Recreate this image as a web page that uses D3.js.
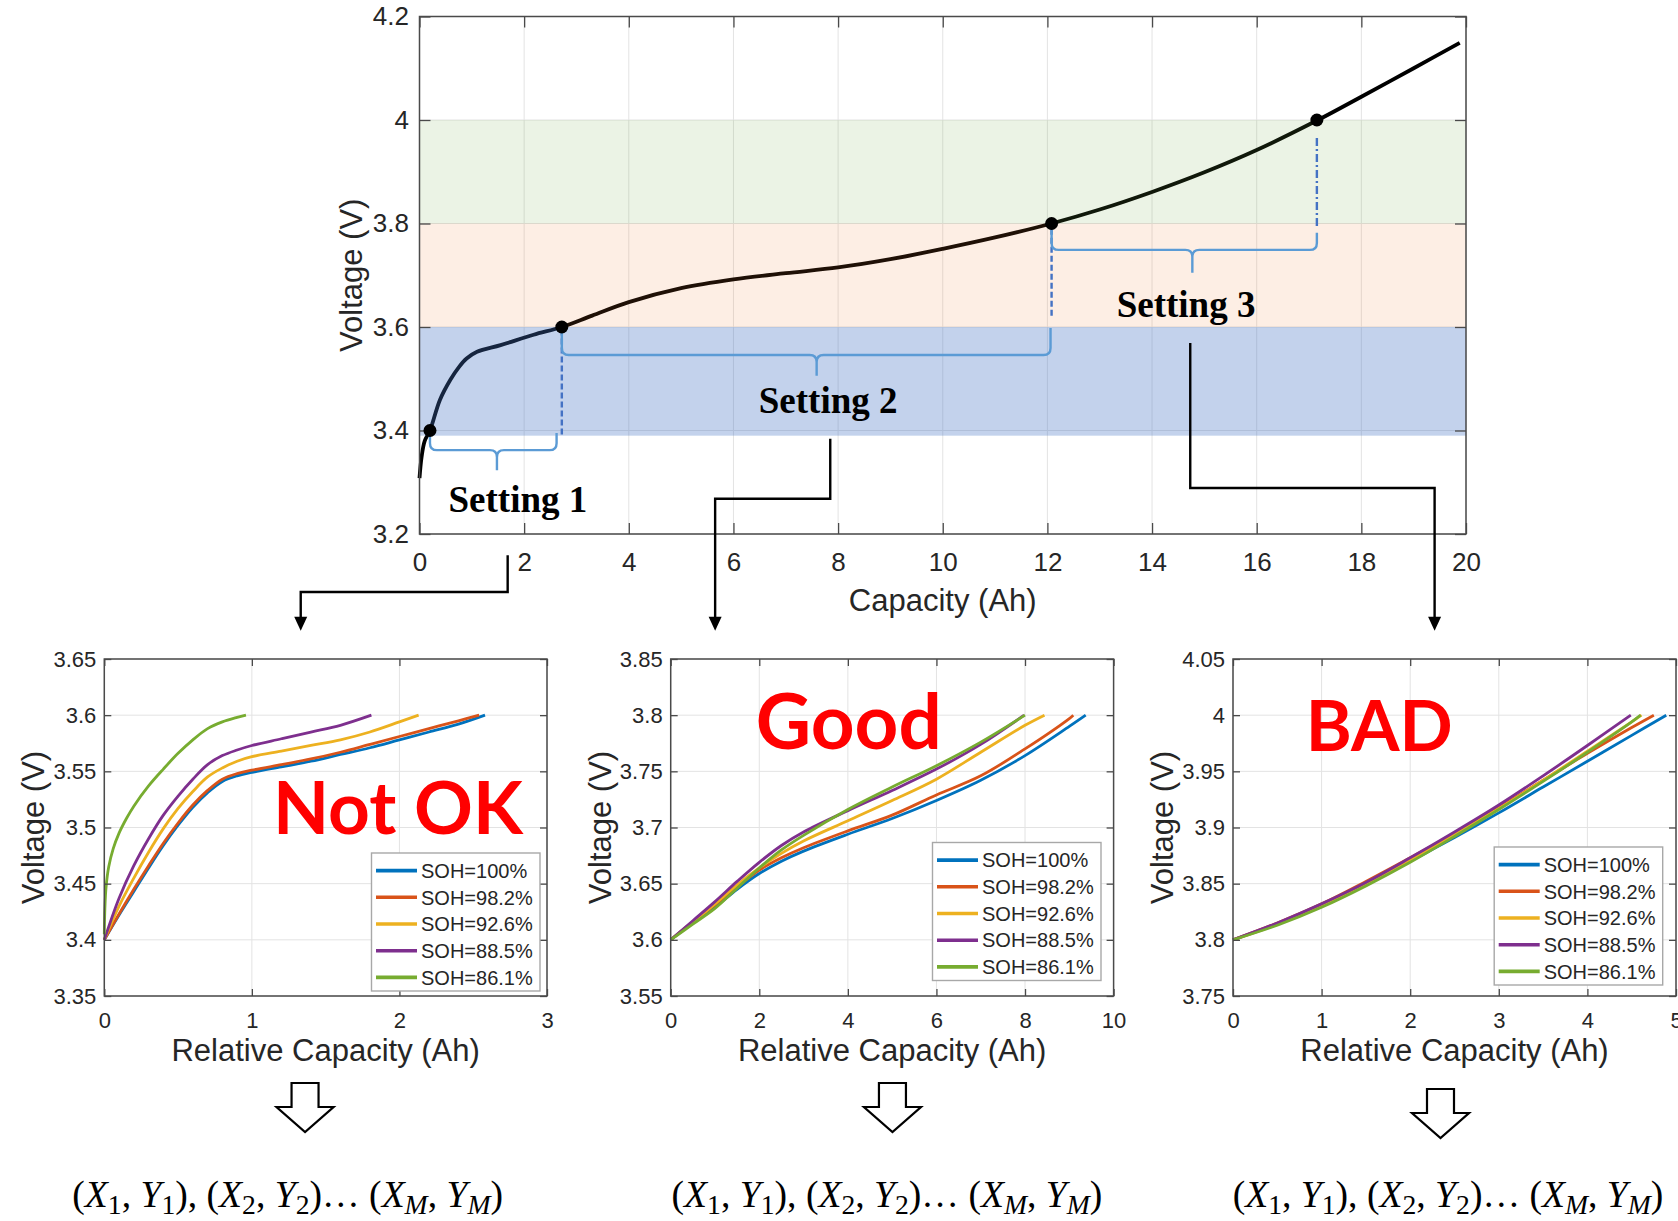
<!DOCTYPE html>
<html>
<head>
<meta charset="utf-8">
<script src="https://cdn.jsdelivr.net/npm/d3@7"></script>
<style>
  html, body { margin: 0; padding: 0; background: #ffffff; overflow: hidden; }
  svg { display: block; }
</style>
</head>
<body>
<svg id="fig" width="1678" height="1221"></svg>
<script>
// ---------------- main charge curve (full cell) ----------------
const mainCapacity = [0, 0.04, 0.1, 0.2, 0.39, 0.59, 0.75, 0.9, 1.1, 1.55, 2.18, 2.72, 3.3, 4, 5, 6, 7, 8, 9, 10, 11, 12.08, 13, 14, 15, 16, 17.15, 18, 19, 19.88];
const mainVoltage  = [3.308, 3.349, 3.38, 3.4, 3.459, 3.498, 3.522, 3.539, 3.552, 3.565, 3.585, 3.6, 3.622, 3.648, 3.675, 3.692, 3.704, 3.715, 3.731, 3.751, 3.773, 3.8, 3.827, 3.861, 3.899, 3.942, 3.999, 4.045, 4.100, 4.149];
const mainXTicks = [0, 2, 4, 6, 8, 10, 12, 14, 16, 18, 20];
const mainYTicks = [3.2, 3.4, 3.6, 3.8, 4.0, 4.2];
const mainYTickLabels = ["3.2", "3.4", "3.6", "3.8", "4", "4.2"];

// voltage windows shaded on the main chart
const bandLow     = [3.39, 3.6, 3.8];
const bandHigh    = [3.6, 3.8, 4.0];
const bandColor   = ["#4472C4", "#ED7D31", "#70AD47"];
const bandOpacity = [0.32, 0.13, 0.14];

// window boundary points on the curve
const keyCapacity = [0.2, 2.72, 12.08, 17.15];
const keyVoltage  = [3.4, 3.6, 3.8, 4.0];

// settings: brace spans, label positions, guide lines
const settingNames    = ["Setting 1", "Setting 2", "Setting 3"];
const braceStart      = [0.2, 2.72, 12.08];
const braceEnd        = [2.62, 12.06, 17.15];
const braceTip        = [1.48, 7.59, 14.77];
const braceTopLeft    = [3.398, 3.597, 3.795];
const braceTopRight   = [3.395, 3.598, 3.782];
const braceLevel      = [3.362, 3.546, 3.749];
const braceTipVoltage = [3.323, 3.506, 3.705];
const labelCapacity   = [1.88, 7.81, 14.65];
const labelVoltage    = [3.2425, 3.434, 3.619];

const guideCapacity = [2.72, 12.08, 17.15];
const guideFrom     = [3.595, 3.79, 3.965];
const guideTo       = [3.39, 3.62, 3.795];
const guideDash     = ["6,3", "6,3", "8,3,2,3"];

// elbow connectors from each setting down to its panel (main-chart units)
const connectorCapacity = [[1.685, 1.685, -2.27, -2.27], [7.85, 7.85, 5.65, 5.65], [14.73, 14.73, 19.40, 19.40]];
const connectorVoltage  = [[3.159, 3.088, 3.088, 3.013], [3.384, 3.268, 3.268, 3.013], [3.569, 3.289, 3.289, 3.013]];

// ---------------- relative capacity panels ----------------
const sohLabels = ["SOH=100%", "SOH=98.2%", "SOH=92.6%", "SOH=88.5%", "SOH=86.1%"];
const sohColors = ["#0072BD", "#D95319", "#EDB120", "#7E2F8E", "#77AC30"];

// Setting 1 : 3.4 V -> 3.6 V
const s1Cap100 = [0, 0.1, 0.2, 0.3, 0.4, 0.5, 0.6, 0.7, 0.8, 0.9, 1.0, 1.2, 1.4, 1.6, 1.8, 2.0, 2.2, 2.4, 2.58];
const s1V100   = [3.400, 3.422, 3.443, 3.464, 3.484, 3.502, 3.518, 3.531, 3.541, 3.546, 3.549, 3.554, 3.559, 3.565, 3.571, 3.578, 3.585, 3.592, 3.600];
const s1Cap982 = [0, 0.1, 0.2, 0.3, 0.4, 0.5, 0.6, 0.7, 0.8, 0.9, 1.0, 1.2, 1.4, 1.6, 1.8, 2.0, 2.2, 2.4, 2.54];
const s1V982   = [3.400, 3.423, 3.445, 3.466, 3.486, 3.504, 3.520, 3.533, 3.543, 3.548, 3.551, 3.556, 3.561, 3.567, 3.574, 3.581, 3.588, 3.595, 3.600];
const s1Cap926 = [0, 0.1, 0.2, 0.3, 0.4, 0.5, 0.6, 0.7, 0.8, 0.9, 1.0, 1.2, 1.4, 1.6, 1.8, 2.0, 2.13];
const s1V926   = [3.400, 3.430, 3.455, 3.478, 3.499, 3.517, 3.532, 3.545, 3.553, 3.559, 3.563, 3.568, 3.573, 3.578, 3.585, 3.594, 3.600];
const s1Cap885 = [0, 0.1, 0.2, 0.3, 0.4, 0.5, 0.6, 0.7, 0.8, 0.9, 1.0, 1.2, 1.4, 1.6, 1.81];
const s1V885   = [3.400, 3.437, 3.466, 3.490, 3.511, 3.528, 3.543, 3.556, 3.564, 3.569, 3.573, 3.579, 3.585, 3.591, 3.600];
const s1Cap861 = [0, 0.004, 0.012, 0.03, 0.06, 0.1, 0.15, 0.2, 0.3, 0.4, 0.5, 0.6, 0.7, 0.8, 0.9, 0.96];
const s1V861   = [3.405, 3.428, 3.447, 3.465, 3.481, 3.495, 3.508, 3.519, 3.537, 3.552, 3.566, 3.578, 3.588, 3.594, 3.598, 3.600];

// Setting 2 : 3.6 V -> 3.8 V
const s2Cap100 = [0, 0.5, 1, 1.5, 2, 2.5, 3, 4, 5, 6, 7, 8, 9, 9.37];
const s2V100   = [3.600, 3.615, 3.629, 3.645, 3.659, 3.670, 3.679, 3.694, 3.708, 3.724, 3.742, 3.764, 3.790, 3.800];
const s2Cap982 = [0, 0.5, 1, 1.5, 2, 2.5, 3, 4, 5, 6, 7, 8, 9, 9.09];
const s2V982   = [3.600, 3.616, 3.631, 3.647, 3.662, 3.673, 3.682, 3.697, 3.711, 3.729, 3.746, 3.770, 3.797, 3.800];
const s2Cap926 = [0, 0.5, 1, 1.5, 2, 2.5, 3, 4, 5, 6, 7, 8, 8.44];
const s2V926   = [3.600, 3.616, 3.632, 3.649, 3.664, 3.677, 3.688, 3.706, 3.724, 3.743, 3.767, 3.791, 3.800];
const s2Cap885 = [0, 0.5, 1, 1.5, 2, 2.5, 3, 4, 5, 6, 7, 7.98];
const s2V885   = [3.600, 3.617, 3.634, 3.652, 3.669, 3.684, 3.696, 3.715, 3.733, 3.752, 3.774, 3.800];
const s2Cap861 = [0, 0.5, 1, 1.5, 2, 2.5, 3, 4, 5, 6, 7, 8.0];
const s2V861   = [3.600, 3.614, 3.628, 3.646, 3.664, 3.680, 3.693, 3.716, 3.736, 3.755, 3.776, 3.800];

// Setting 3 : 3.8 V -> 4.0 V
const s3Cap100 = [0, 0.5, 1, 1.5, 2, 2.5, 3, 3.5, 4, 4.5, 4.89];
const s3V100   = [3.800, 3.814, 3.830, 3.849, 3.870, 3.891, 3.913, 3.936, 3.959, 3.982, 4.000];
const s3Cap982 = [0, 0.5, 1, 1.5, 2, 2.5, 3, 3.5, 4, 4.5, 4.75];
const s3V982   = [3.800, 3.815, 3.832, 3.852, 3.873, 3.895, 3.918, 3.942, 3.966, 3.989, 4.000];
const s3Cap926 = [0, 0.5, 1, 1.5, 2, 2.5, 3, 3.5, 4, 4.5, 4.61];
const s3V926   = [3.800, 3.814, 3.831, 3.850, 3.871, 3.894, 3.917, 3.942, 3.968, 3.994, 4.000];
const s3Cap885 = [0, 0.5, 1, 1.5, 2, 2.5, 3, 3.5, 4, 4.49];
const s3V885   = [3.800, 3.815, 3.832, 3.851, 3.873, 3.896, 3.920, 3.946, 3.973, 4.000];
const s3Cap861 = [0, 0.5, 1, 1.5, 2, 2.5, 3, 3.5, 4, 4.5, 4.6];
const s3V861   = [3.800, 3.813, 3.829, 3.848, 3.869, 3.892, 3.916, 3.941, 3.967, 3.994, 4.000];

const panelXDomain = [[0, 3], [0, 10], [0, 5]];
const panelYDomain = [[3.35, 3.65], [3.55, 3.85], [3.75, 4.05]];
const panelXTicks  = [[0, 1, 2, 3], [0, 2, 4, 6, 8, 10], [0, 1, 2, 3, 4, 5]];
const panelYTicks  = [[3.35, 3.4, 3.45, 3.5, 3.55, 3.6, 3.65], [3.55, 3.6, 3.65, 3.7, 3.75, 3.8, 3.85], [3.75, 3.8, 3.85, 3.9, 3.95, 4.0, 4.05]];
const panelYTickLabels = [["3.35", "3.4", "3.45", "3.5", "3.55", "3.6", "3.65"], ["3.55", "3.6", "3.65", "3.7", "3.75", "3.8", "3.85"], ["3.75", "3.8", "3.85", "3.9", "3.95", "4", "4.05"]];
const panelCaps = [[s1Cap100, s1Cap982, s1Cap926, s1Cap885, s1Cap861], [s2Cap100, s2Cap982, s2Cap926, s2Cap885, s2Cap861], [s3Cap100, s3Cap982, s3Cap926, s3Cap885, s3Cap861]];
const panelVolts = [[s1V100, s1V982, s1V926, s1V885, s1V861], [s2V100, s2V982, s2V926, s2V885, s2V861], [s3V100, s3V982, s3V926, s3V885, s3V861]];

const verdictText = ["Not OK", "Good", "BAD"];
const verdictCapacity = [1.143, 1.92, 0.82];
const verdictVoltage  = [3.494, 3.770, 3.968];
const verdictWidth    = [250, 186, 147];

// ---------------- layout ----------------
const SANS = "'Liberation Sans', Arial, Helvetica, sans-serif";
const SERIF = "'Liberation Serif', 'Times New Roman', serif";
const AX = "#4a4a4a", TXT = "#262626", GRID = "#e3e3e3";

const svg = d3.select("#fig");
svg.append("rect").attr("width", 1678).attr("height", 1221).attr("fill", "#fff");

const mx = d3.scaleLinear().domain([0, 20]).range([419.5, 1466]);
const my = d3.scaleLinear().domain([3.2, 4.2]).range([534, 16.5]);

const panelLeft = [104.3, 670.7, 1233];
const panelRight = [547, 1113.6, 1676];
const panelTop = 659, panelBottom = 996;
const legendOffset = [[7, 5], [12.6, 15.5], [13.3, 11]];

const smooth = d3.curveCatmullRom.alpha(0.5);

function drawGrid(g, x, y, xTicks, yTicks) {
  const [x0, x1] = x.range();
  const [y0, y1] = y.range();
  g.append("g").selectAll("line").data(xTicks).join("line")
    .attr("x1", d => x(d)).attr("x2", d => x(d)).attr("y1", y0).attr("y2", y1)
    .attr("stroke", GRID).attr("stroke-width", 1);
  g.append("g").selectAll("line").data(yTicks).join("line")
    .attr("y1", d => y(d)).attr("y2", d => y(d)).attr("x1", x0).attr("x2", x1)
    .attr("stroke", GRID).attr("stroke-width", 1);
}

function drawAxes(g, x, y, xTicks, yTicks, yLabels, tickLen, tickFont, xPad, yPad) {
  const [x0, x1] = x.range();
  const [y0, y1] = y.range();
  const style = a => {
    a.select(".domain").remove();
    a.selectAll(".tick line").attr("stroke", AX).attr("stroke-width", 1.3);
    a.selectAll(".tick text").attr("fill", TXT).style("font-family", SANS).style("font-size", tickFont + "px");
  };
  g.append("g").attr("transform", `translate(0,${y0})`)
    .call(d3.axisBottom(x).tickValues(xTicks).tickFormat(d3.format("d")).tickSizeInner(-tickLen).tickSizeOuter(0).tickPadding(xPad)).call(style);
  g.append("g").attr("transform", `translate(0,${y1})`)
    .call(d3.axisTop(x).tickValues(xTicks).tickFormat("").tickSizeInner(-tickLen).tickSizeOuter(0)).call(style);
  g.append("g").attr("transform", `translate(${x0},0)`)
    .call(d3.axisLeft(y).tickValues(yTicks).tickFormat((d, i) => yLabels[i]).tickSizeInner(-tickLen).tickSizeOuter(0).tickPadding(yPad)).call(style);
  g.append("g").attr("transform", `translate(${x1},0)`)
    .call(d3.axisRight(y).tickValues(yTicks).tickFormat("").tickSizeInner(-tickLen).tickSizeOuter(0)).call(style);
  g.append("rect").attr("x", x0).attr("y", y1).attr("width", x1 - x0).attr("height", y0 - y1)
    .attr("fill", "none").attr("stroke", AX).attr("stroke-width", 1.5);
}

// ================= main chart =================
const gMain = svg.append("g");
drawGrid(gMain, mx, my, mainXTicks, mainYTicks);

const mainPts = mainCapacity.map((c, i) => [c, mainVoltage[i]]);
const mainLine = d3.line().x(d => mx(d[0])).y(d => my(d[1])).curve(smooth);
gMain.append("path").datum(mainPts).attr("d", mainLine)
  .attr("fill", "none").attr("stroke", "#000").attr("stroke-width", 3.8).attr("stroke-linejoin", "round");

// translucent voltage windows laid over the curve
gMain.append("g").selectAll("rect").data(bandLow).join("rect")
  .attr("x", mx(0)).attr("width", mx(20) - mx(0))
  .attr("y", (d, i) => my(bandHigh[i])).attr("height", (d, i) => my(d) - my(bandHigh[i]))
  .attr("fill", (d, i) => bandColor[i]).attr("fill-opacity", (d, i) => bandOpacity[i]);

drawAxes(gMain, mx, my, mainXTicks, mainYTicks, mainYTickLabels, 11, 26, 19, 10.5);

// axis titles
gMain.append("text").attr("x", (mx(0) + mx(20)) / 2).attr("y", 611)
  .attr("text-anchor", "middle").attr("fill", TXT).style("font-family", SANS).style("font-size", "31px")
  .text("Capacity (Ah)");
gMain.append("text").attr("transform", `translate(${mx(0) - 57.5},${(my(3.2) + my(4.2)) / 2}) rotate(-90)`)
  .attr("text-anchor", "middle").attr("fill", TXT).style("font-family", SANS).style("font-size", "31px")
  .text("Voltage (V)");

// dashed guides from the window points
gMain.append("g").selectAll("line").data(guideCapacity).join("line")
  .attr("x1", d => mx(d)).attr("x2", d => mx(d))
  .attr("y1", (d, i) => my(guideFrom[i])).attr("y2", (d, i) => my(guideTo[i]))
  .attr("stroke", "#4472C4").attr("stroke-width", 2.4).attr("stroke-dasharray", (d, i) => guideDash[i]);

// curly braces
function bracePath(i) {
  const xa = mx(braceStart[i]), xb = mx(braceEnd[i]), xm = mx(braceTip[i]);
  const ya = my(braceTopLeft[i]), yb = my(braceTopRight[i]), yl = my(braceLevel[i]), yt = my(braceTipVoltage[i]);
  const r = 7;
  return `M${xa},${ya} L${xa},${yl - r} Q${xa},${yl} ${xa + r},${yl} L${xm - r},${yl} Q${xm},${yl} ${xm},${yl + r} L${xm},${yt}` +
         ` M${xm},${yl + r} Q${xm},${yl} ${xm + r},${yl} L${xb - r},${yl} Q${xb},${yl} ${xb},${yl - r} L${xb},${yb}`;
}
gMain.append("g").selectAll("path").data(settingNames).join("path")
  .attr("d", (d, i) => bracePath(i))
  .attr("fill", "none").attr("stroke", "#5B9BD5").attr("stroke-width", 2.4).attr("stroke-linejoin", "round");

// window points
gMain.append("g").selectAll("circle").data(keyCapacity).join("circle")
  .attr("cx", d => mx(d)).attr("cy", (d, i) => my(keyVoltage[i])).attr("r", 6.5).attr("fill", "#000");

// setting labels
gMain.append("g").selectAll("text").data(settingNames).join("text")
  .attr("x", (d, i) => mx(labelCapacity[i])).attr("y", (d, i) => my(labelVoltage[i]))
  .attr("text-anchor", "middle").attr("fill", "#000")
  .style("font-family", SERIF).style("font-weight", "bold").style("font-size", "37px")
  .text(d => d);

// elbow connectors with arrowheads
connectorCapacity.forEach((cs, k) => {
  const pts = cs.map((c, j) => [mx(c), my(connectorVoltage[k][j])]);
  const tip = pts[pts.length - 1];
  const shaft = pts.slice(0, -1).concat([[tip[0], tip[1] - 12]]);
  gMain.append("path").attr("d", d3.line()(shaft))
    .attr("fill", "none").attr("stroke", "#000").attr("stroke-width", 2.4);
  gMain.append("path")
    .attr("d", `M${tip[0] - 6.5},${tip[1] - 14} L${tip[0] + 6.5},${tip[1] - 14} L${tip[0]},${tip[1]} Z`)
    .attr("fill", "#000");
});

// ================= relative capacity panels =================
const formulaY = 1207;
const arrowTop = [1083, 1083, 1089];

// point sequence written under each panel: [text, kind] (0 upright, 1 italic, 2 subscript, 3 italic subscript)
const sequenceParts = [
  ["(", 0], ["X", 1], ["1", 2], [", ", 0], ["Y", 1], ["1", 2], ["), ", 0],
  ["(", 0], ["X", 1], ["2", 2], [", ", 0], ["Y", 1], ["2", 2], [")", 0],
  ["\u2026 ", 0], ["(", 0], ["X", 1], ["M", 3], [", ", 0], ["Y", 1], ["M", 3], [")", 0]
];

panelXDomain.forEach((xd, p) => {
  const g = svg.append("g");
  const x = d3.scaleLinear().domain(xd).range([panelLeft[p], panelRight[p]]);
  const y = d3.scaleLinear().domain(panelYDomain[p]).range([panelBottom, panelTop]);

  drawGrid(g, x, y, panelXTicks[p], panelYTicks[p]);

  const line = d3.line().x(d => x(d[0])).y(d => y(d[1])).curve(smooth);
  panelCaps[p].forEach((caps, s) => {
    const pts = caps.map((c, i) => [c, panelVolts[p][s][i]]);
    g.append("path").datum(pts).attr("d", line)
      .attr("fill", "none").attr("stroke", sohColors[s]).attr("stroke-width", 2.8)
      .attr("stroke-linejoin", "round");
  });

  drawAxes(g, x, y, panelXTicks[p], panelYTicks[p], panelYTickLabels[p], 7, 22, 16, 8);

  // axis titles
  g.append("text").attr("x", (panelLeft[p] + panelRight[p]) / 2).attr("y", 1061)
    .attr("text-anchor", "middle").attr("fill", TXT).style("font-family", SANS).style("font-size", "31px")
    .text("Relative Capacity (Ah)");
  g.append("text").attr("transform", `translate(${panelLeft[p] - 60},${(panelTop + panelBottom) / 2}) rotate(-90)`)
    .attr("text-anchor", "middle").attr("fill", TXT).style("font-family", SANS).style("font-size", "31px")
    .text("Voltage (V)");

  // legend
  const lw = 168.5, lh = 138;
  const lx = panelRight[p] - legendOffset[p][0] - lw;
  const ly = panelBottom - legendOffset[p][1] - lh;
  const lg = g.append("g");
  lg.append("rect").attr("x", lx).attr("y", ly).attr("width", lw).attr("height", lh)
    .attr("fill", "#fff").attr("stroke", "#a8a8a8").attr("stroke-width", 1.4);
  sohLabels.forEach((lab, s) => {
    const ry = ly + 17.6 + s * 26.7;
    lg.append("line").attr("x1", lx + 4.5).attr("x2", lx + 45.5).attr("y1", ry).attr("y2", ry)
      .attr("stroke", sohColors[s]).attr("stroke-width", 3.6);
    lg.append("text").attr("x", lx + 49.5).attr("y", ry).attr("dy", "0.36em")
      .attr("fill", TXT).style("font-family", SANS).style("font-size", "20px").text(lab);
  });

  // verdict word
  const vt = g.append("text").attr("x", x(verdictCapacity[p])).attr("y", y(verdictVoltage[p]))
    .attr("fill", "#FF0000").style("font-family", "Lato, 'Open Sans', sans-serif")
    .style("font-weight", "bold").style("font-size", "100px").text(verdictText[p]);
  const vw = vt.node().getComputedTextLength();
  vt.style("font-size", (100 * verdictWidth[p] / vw) + "px");

  // hollow down arrow
  const cx = (panelLeft[p] + panelRight[p]) / 2 - (p === 0 ? 20.6 : p === 1 ? -0.3 : 14);
  const t0 = arrowTop[p];
  g.append("path")
    .attr("d", `M${cx - 13.5},${t0} L${cx + 13.5},${t0} L${cx + 13.5},${t0 + 24} L${cx + 28.5},${t0 + 24} L${cx},${t0 + 49} L${cx - 28.5},${t0 + 24} L${cx - 13.5},${t0 + 24} Z`)
    .attr("fill", "#fff").attr("stroke", "#000").attr("stroke-width", 2.2).attr("stroke-linejoin", "miter");

  // sample point sequence
  const fx = (panelLeft[p] + panelRight[p]) / 2 - (p === 0 ? 38 : p === 1 ? 5.2 : 6.5);
  const ft = g.append("text").attr("x", fx).attr("y", formulaY).attr("text-anchor", "middle")
    .attr("fill", "#000").style("font-family", SERIF).style("font-size", "34px").style("white-space", "pre");
  let sub = false;
  sequenceParts.forEach(([s, kind]) => {
    const ts = ft.append("tspan").text(s);
    if (kind === 1 || kind === 3) ts.style("font-style", "italic");
    if (kind >= 2) {
      ts.attr("dy", sub ? 0 : 7).attr("class", "sub").style("font-size", "25px");
      sub = true;
    } else if (sub) {
      ts.attr("dy", -7);
      sub = false;
    }
  });
  const fw = ft.node().getComputedTextLength();
  const k = 431 / fw;
  ft.style("font-size", (34 * k) + "px");
  ft.selectAll("tspan.sub").style("font-size", (25 * k) + "px");
});
</script>
</body>
</html>
